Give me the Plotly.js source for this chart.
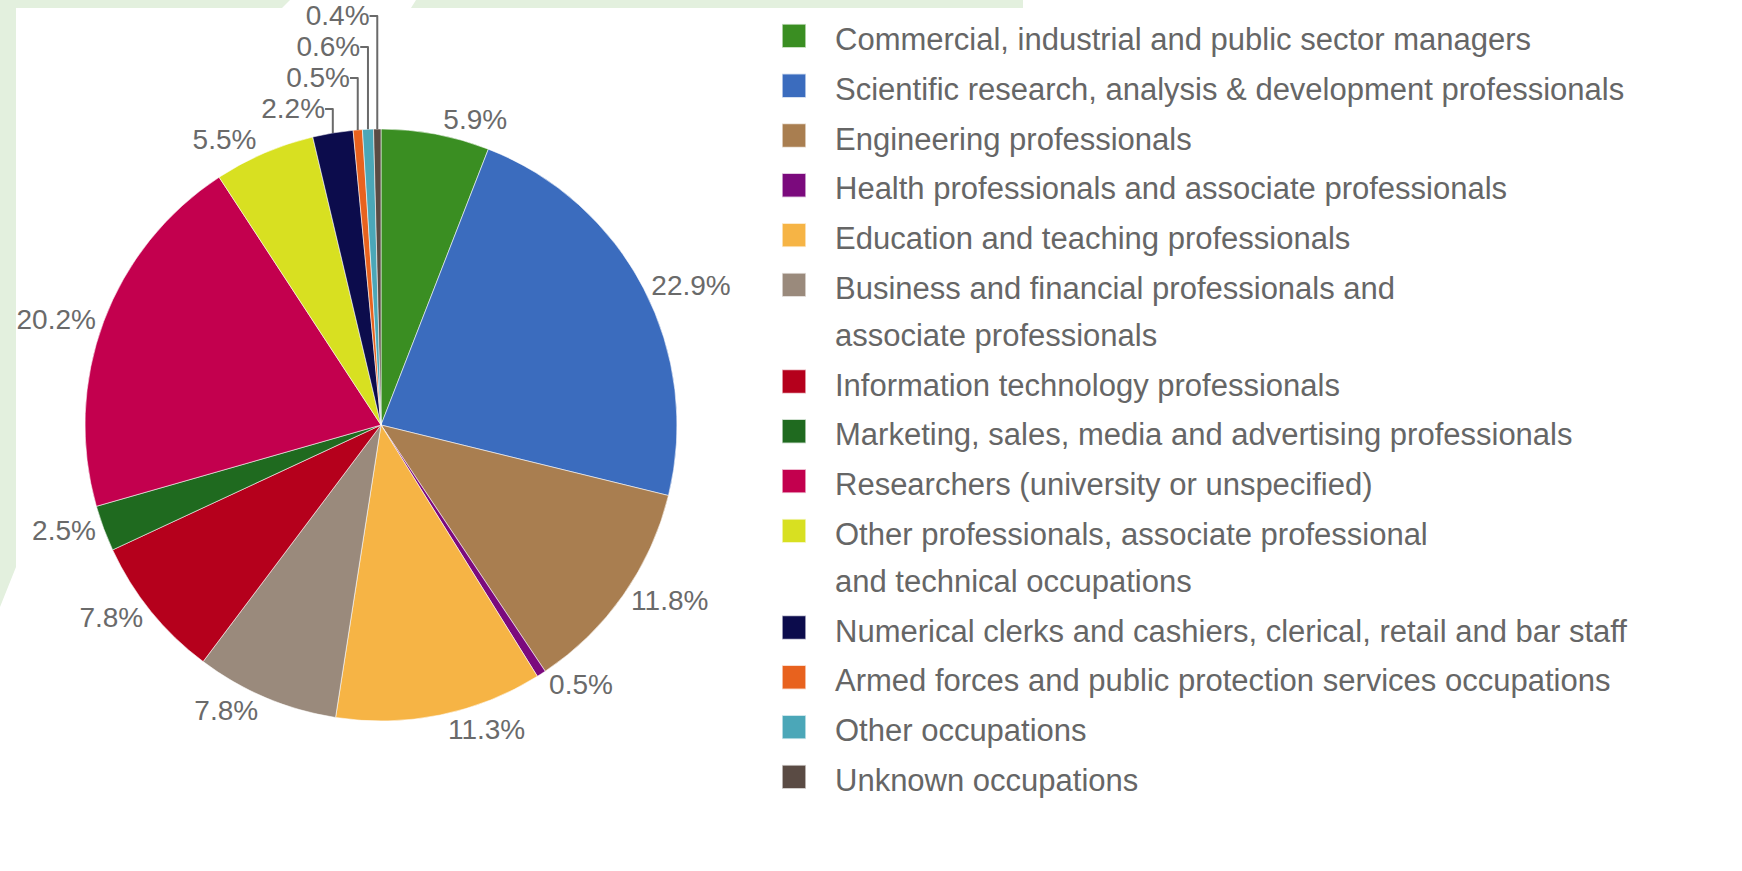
<!DOCTYPE html>
<html>
<head>
<meta charset="utf-8">
<script src="https://cdn.plot.ly/plotly-3.0.1.min.js"></script>
<style>
html, body { margin: 0; padding: 0; background: #ffffff; }
#chart { width: 1742px; height: 871px; }
.legendpie { transform: translate(20px, 0px) scale(2.0); }
</style>
</head>
<body>
<div id="chart"></div>
<script>
// ---- data ----
const categories = [
  "Commercial, industrial and public sector managers",
  "Scientific research, analysis & development professionals",
  "Engineering professionals",
  "Health professionals and associate professionals",
  "Education and teaching professionals",
  "Business and financial professionals and<br>associate professionals",
  "Information technology professionals",
  "Marketing, sales, media and advertising professionals",
  "Researchers (university or unspecified)",
  "Other professionals, associate professional<br>and technical occupations",
  "Numerical clerks and cashiers, clerical, retail and bar staff",
  "Armed forces and public protection services occupations",
  "Other occupations",
  "Unknown occupations"
];
const shares = [5.9, 22.9, 11.8, 0.5, 11.3, 7.8, 7.8, 2.5, 20.2, 5.5, 2.2, 0.5, 0.6, 0.4];
const sliceColors = [
  "#3a8e22", "#3b6cbe", "#a97e50", "#7b0a7d", "#f6b445", "#9a8a7c", "#b5001c",
  "#1f6a1f", "#c3004e", "#d8e021", "#0c0c4c", "#e8621e", "#4ba7b8", "#5a4b44"
];

// ---- presentation ----
const FONT = "Liberation Sans, Arial, sans-serif";
const W = 1742, H = 871;
const px = v => v / W;
const py = v => 1 - v / H;

const legendLabels = categories.map(c => '<span style="font-size:31px">' + c + '</span>');

const trace = {
  type: "pie",
  labels: legendLabels,
  values: shares,
  sort: false,
  direction: "clockwise",
  rotation: 0,
  marker: { colors: sliceColors, line: { color: "rgba(255,255,255,0.7)", width: 0.8 } },
  texttemplate: "%{value:.1f}%",
  textposition: "outside",
  outsidetextfont: { family: FONT, size: 28, color: "#6a6a6a" },
  hoverinfo: "skip",
  domain: { x: [px(85), px(677)], y: [py(721), py(129)] }
};

function poly(points) {
  return "M" + points.map(p => px(p[0]) + "," + py(p[1])).join("L") + "Z";
}

const layout = {
  width: W, height: H,
  margin: { l: 0, r: 0, t: 0, b: 0 },
  paper_bgcolor: "#ffffff",
  font: { family: FONT, color: "#666666" },
  showlegend: true,
  legend: {
    x: px(774), y: py(6), xanchor: "left", yanchor: "top",
    font: { family: FONT, size: 36, color: "#666666" },
    valign: "top",
    itemwidth: 51,
    bgcolor: "rgba(0,0,0,0)",
    traceorder: "normal"
  },
  shapes: [
    { type: "path", xref: "paper", yref: "paper", layer: "below",
      path: poly([[0,0],[290,0],[282,8],[16,8],[16,567],[0,607]]),
      fillcolor: "#e3f0de", line: { width: 0 } },
    { type: "path", xref: "paper", yref: "paper", layer: "below",
      path: poly([[416,0],[1023,0],[1023,8],[411,8]]),
      fillcolor: "#e3f0de", line: { width: 0 } }
  ]
};

Plotly.newPlot("chart", [trace], layout, { displayModeBar: false, staticPlot: true });
</script>
</body>
</html>
